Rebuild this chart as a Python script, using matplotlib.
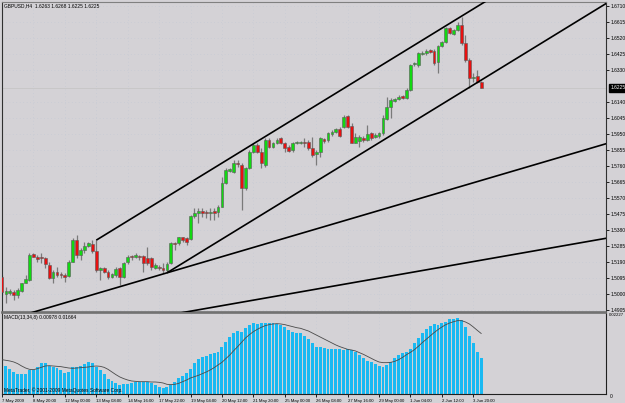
import matplotlib
matplotlib.use("Agg")
import matplotlib.pyplot as plt
import matplotlib.transforms as mtrans

# ---------------- data ----------------
chart_title = "GBPUSD,H4  1.6263 1.6268 1.6225 1.6225"
macd_title = "MACD(13,34,8) 0.00978 0.01664"
copyright_text = "MetaTrader, \u00a9 2001-2009 MetaQuotes Software Corp."

opens = [1.5104, 1.5001, 1.5005, 1.5014, 1.4995, 1.5020, 1.5068, 1.5084, 1.5238, 1.5219,
         1.5222, 1.5213, 1.5173, 1.5094, 1.5130, 1.5118, 1.5114, 1.5108, 1.5193, 1.5321,
         1.5232, 1.5262, 1.5288, 1.5298, 1.5256, 1.5143, 1.5153, 1.5133, 1.5103, 1.5114,
         1.5153, 1.5103, 1.5189, 1.5225, 1.5222, 1.5226, 1.5226, 1.5213, 1.5213, 1.5157,
         1.5163, 1.5153, 1.5143, 1.5183, 1.5305, 1.5302, 1.5337, 1.5332, 1.5326, 1.5464,
         1.5480, 1.5495, 1.5490, 1.5484, 1.5495, 1.5490, 1.5519, 1.5658, 1.5733, 1.5727,
         1.5777, 1.5767, 1.5629, 1.5747, 1.5846, 1.5886, 1.5846, 1.5767, 1.5915, 1.5876,
         1.5899, 1.5926, 1.5898, 1.5872, 1.5856, 1.5896, 1.5899, 1.5905, 1.5902, 1.5870,
         1.5832, 1.5846, 1.5921, 1.5915, 1.5949, 1.5965, 1.5981, 1.5994, 1.6058, 1.5999,
         1.5899, 1.5910, 1.5929, 1.5915, 1.5955, 1.5935, 1.5939, 1.5955, 1.6040, 1.6113,
         1.6147, 1.6159, 1.6177, 1.6163, 1.6212, 1.6365, 1.6361, 1.6426, 1.6430, 1.6450,
         1.6446, 1.6377, 1.6476, 1.6499, 1.6579, 1.6543, 1.6569, 1.6599, 1.6490, 1.6391,
         1.6282, 1.6296, 1.6263]
highs = [1.5114, 1.5044, 1.5030, 1.5024, 1.5035, 1.5068, 1.5114, 1.5242, 1.5242, 1.5232,
         1.5242, 1.5222, 1.5193, 1.5143, 1.5163, 1.5133, 1.5124, 1.5203, 1.5332, 1.5351,
         1.5272, 1.5311, 1.5311, 1.5321, 1.5321, 1.5163, 1.5163, 1.5143, 1.5127, 1.5163,
         1.5163, 1.5193, 1.5232, 1.5232, 1.5242, 1.5232, 1.5232, 1.5282, 1.5222, 1.5183,
         1.5173, 1.5183, 1.5193, 1.5311, 1.5311, 1.5341, 1.5341, 1.5341, 1.5470, 1.5510,
         1.5510, 1.5510, 1.5500, 1.5510, 1.5510, 1.5529, 1.5697, 1.5747, 1.5747, 1.5797,
         1.5797, 1.5777, 1.5757, 1.5856, 1.5898, 1.5896, 1.5866, 1.5926, 1.5926, 1.5905,
         1.5926, 1.5933, 1.5905, 1.5886, 1.5905, 1.5911, 1.5911, 1.5926, 1.5915, 1.5935,
         1.5856, 1.5935, 1.5929, 1.5965, 1.5975, 1.5987, 1.5994, 1.6064, 1.6064, 1.6015,
         1.5955, 1.5945, 1.5939, 1.6005, 1.5965, 1.5955, 1.5965, 1.6064, 1.6173, 1.6163,
         1.6165, 1.6183, 1.6183, 1.6223, 1.6367, 1.6379, 1.6440, 1.6444, 1.6454, 1.6456,
         1.6454, 1.6480, 1.6505, 1.6588, 1.6587, 1.6575, 1.6618, 1.6648, 1.6539, 1.6401,
         1.6312, 1.6331, 1.6268]
lows = [1.4995, 1.4945, 1.4995, 1.4965, 1.4975, 1.5014, 1.5064, 1.5078, 1.5219, 1.5193,
        1.5183, 1.5153, 1.5088, 1.5064, 1.5103, 1.5094, 1.5074, 1.5103, 1.5191, 1.5213,
        1.5203, 1.5242, 1.5282, 1.5242, 1.5133, 1.5084, 1.5124, 1.5088, 1.5094, 1.5103,
        1.5054, 1.5094, 1.5179, 1.5203, 1.5213, 1.5203, 1.5133, 1.5173, 1.5143, 1.5147,
        1.5143, 1.5124, 1.5133, 1.5179, 1.5262, 1.5292, 1.5311, 1.5292, 1.5321, 1.5450,
        1.5421, 1.5456, 1.5450, 1.5440, 1.5440, 1.5460, 1.5517, 1.5654, 1.5727, 1.5721,
        1.5757, 1.5500, 1.5618, 1.5741, 1.5838, 1.5836, 1.5747, 1.5757, 1.5868, 1.5868,
        1.5892, 1.5892, 1.5846, 1.5844, 1.5846, 1.5892, 1.5892, 1.5876, 1.5856, 1.5814,
        1.5767, 1.5816, 1.5899, 1.5905, 1.5939, 1.5957, 1.5935, 1.5985, 1.5987, 1.5896,
        1.5896, 1.5876, 1.5905, 1.5910, 1.5915, 1.5926, 1.5929, 1.5945, 1.6034, 1.6044,
        1.6141, 1.6153, 1.6157, 1.6157, 1.6209, 1.6355, 1.6351, 1.6420, 1.6420, 1.6432,
        1.6361, 1.6312, 1.6470, 1.6493, 1.6545, 1.6539, 1.6563, 1.6480, 1.6381, 1.6223,
        1.6262, 1.6252, 1.6225]
closes = [1.5015, 1.5020, 1.5020, 1.4995, 1.5024, 1.5064, 1.5088, 1.5232, 1.5222, 1.5207,
          1.5213, 1.5179, 1.5094, 1.5133, 1.5114, 1.5114, 1.5103, 1.5193, 1.5321, 1.5232,
          1.5262, 1.5286, 1.5302, 1.5256, 1.5143, 1.5153, 1.5133, 1.5100, 1.5118, 1.5147,
          1.5103, 1.5183, 1.5222, 1.5219, 1.5231, 1.5219, 1.5183, 1.5183, 1.5163, 1.5173,
          1.5157, 1.5143, 1.5179, 1.5302, 1.5298, 1.5337, 1.5321, 1.5311, 1.5464, 1.5484,
          1.5495, 1.5484, 1.5484, 1.5488, 1.5484, 1.5519, 1.5658, 1.5737, 1.5741, 1.5777,
          1.5771, 1.5629, 1.5747, 1.5846, 1.5886, 1.5846, 1.5777, 1.5915, 1.5876, 1.5899,
          1.5915, 1.5899, 1.5866, 1.5852, 1.5899, 1.5905, 1.5905, 1.5899, 1.5866, 1.5826,
          1.5846, 1.5926, 1.5910, 1.5959, 1.5965, 1.5981, 1.5941, 1.6054, 1.5994, 1.5899,
          1.5935, 1.5931, 1.5915, 1.5951, 1.5926, 1.5945, 1.5955, 1.6044, 1.6113, 1.6153,
          1.6159, 1.6173, 1.6163, 1.6212, 1.6361, 1.6371, 1.6430, 1.6434, 1.6444, 1.6436,
          1.6375, 1.6476, 1.6499, 1.6579, 1.6549, 1.6569, 1.6599, 1.6490, 1.6391, 1.6282,
          1.6290, 1.6262, 1.6225]

macd_hist = [0.00861, 0.00778, 0.00688, 0.00613, 0.00550, 0.00550, 0.00550, 0.00660, 0.00660, 0.00751,
             0.00844, 0.00861, 0.00778, 0.00751, 0.00707, 0.00660, 0.00586, 0.00613, 0.00734, 0.00751,
             0.00770, 0.00825, 0.00880, 0.00844, 0.00751, 0.00660, 0.00550, 0.00413, 0.00358, 0.00294,
             0.00248, 0.00267, 0.00275, 0.00294, 0.00322, 0.00322, 0.00322, 0.00322, 0.00294, 0.00248,
             0.00201, 0.00157, 0.00184, 0.00248, 0.00338, 0.00432, 0.00495, 0.00569, 0.00688, 0.00844,
             0.00954, 0.01009, 0.01053, 0.01092, 0.01119, 0.01155, 0.01301, 0.01438, 0.01576, 0.01686,
             0.01741, 0.01713, 0.01807, 0.01898, 0.01944, 0.01925, 0.01944, 0.01944, 0.01944, 0.01944,
             0.01925, 0.01898, 0.01834, 0.01760, 0.01713, 0.01669,
             0.01669, 0.01595, 0.01504, 0.01394, 0.01301, 0.01284, 0.01257, 0.01246, 0.01246, 0.01246,
             0.01240, 0.01210, 0.01238, 0.01210, 0.01163, 0.01073, 0.00982, 0.00916, 0.00872, 0.00825,
             0.00778, 0.00751, 0.00798, 0.00888, 0.00982, 0.01073, 0.01136, 0.01163, 0.01229, 0.01411,
             0.01532, 0.01669, 0.01779, 0.01870, 0.01925, 0.01898, 0.01944, 0.01988, 0.02054, 0.02071,
             0.02098, 0.02035, 0.01851, 0.01595, 0.01394, 0.01163, 0.00978]
macd_signal = [0.00944, 0.00926, 0.00908, 0.00880, 0.00834, 0.00770, 0.00715, 0.00678, 0.00669, 0.00697,
               0.00733, 0.00770, 0.00779, 0.00770, 0.00761, 0.00752, 0.00733, 0.00715, 0.00706, 0.00715,
               0.00724, 0.00733, 0.00743, 0.00761, 0.00770, 0.00761, 0.00733, 0.00678, 0.00605, 0.00532,
               0.00468, 0.00422, 0.00385, 0.00358, 0.00348, 0.00339, 0.00339, 0.00339, 0.00330, 0.00330,
               0.00321, 0.00303, 0.00266, 0.00257, 0.00266, 0.00293, 0.00339, 0.00385, 0.00440, 0.00477,
               0.00513, 0.00559, 0.00605, 0.00660, 0.00724, 0.00798, 0.00871, 0.00972, 0.01073, 0.01192,
               0.01302, 0.01421, 0.01540, 0.01632, 0.01714, 0.01778, 0.01833, 0.01879, 0.01907, 0.01925,
               0.01934, 0.01925, 0.01907, 0.01879, 0.01852, 0.01824,
               0.01806, 0.01769, 0.01733, 0.01678, 0.01623, 0.01568, 0.01513, 0.01458, 0.01403, 0.01348,
               0.01302, 0.01265, 0.01228, 0.01210, 0.01183, 0.01137, 0.01091, 0.01036, 0.00981, 0.00926,
               0.00880, 0.00862, 0.00862, 0.00871, 0.00898, 0.00944, 0.01008, 0.01082, 0.01146, 0.01219,
               0.01311, 0.01412, 0.01503, 0.01595, 0.01687, 0.01769, 0.01843, 0.01907, 0.01953, 0.01989,
               0.02017, 0.02017, 0.01980, 0.01925, 0.01843, 0.01751, 0.01664]

time_tick_idx = [0, 8, 16, 24, 32, 40, 48, 56, 64, 72, 80, 88, 96, 104, 112, 120]
time_tick_labels = ["7 May 2009", "8 May 20:00", "12 May 00:00", "13 May 08:00",
                    "14 May 16:00", "17 May 22:00", "19 May 04:00", "20 May 12:00",
                    "21 May 20:00", "25 May 00:00", "26 May 08:00", "27 May 16:00",
                    "29 May 00:00", "1 Jun 04:00", "2 Jun 12:00", "3 Jun 20:00"]
price_ticks = [1.6710, 1.6615, 1.6520, 1.6425, 1.6330, 1.6140, 1.6045, 1.5950, 1.5855,
               1.5760, 1.5665, 1.5570, 1.5475, 1.5380, 1.5285, 1.5190, 1.5095, 1.5000, 1.4905]
last_price = 1.6225
macd_max = 0.02227

# trend lines: (start bar, start price), (end bar, end price)
trend_lines = [((24, 1.5321), (140, 1.6980)),
               ((42, 1.5127), (154, 1.6729)),
               ((0, 1.4839), (154, 1.5895)),
               ((0, 1.4703), (154, 1.5333))]

# ---------------- style ----------------
W, H = 625, 403
BG = '#D4D2D6'
GREEN = '#12D812'
RED = '#E81010'
WICK = '#7A7A7A'
EDGE = '#5A5A5A'
HIST = '#19B9F2'
FONT = ['Liberation Sans', 'DejaVu Sans']
FS = 3.5
FSX = 3.1
plt.rcParams['font.family'] = FONT

fig = plt.figure(figsize=(W / 100, H / 100), dpi=100)
fig.patch.set_facecolor(BG)


def box(x0, y0, x1, y1):
    return [x0 / W, 1 - y1 / H, (x1 - x0) / W, (y1 - y0) / H]


ax = fig.add_axes(box(2, 2, 606, 312))
axm = fig.add_axes(box(2, 313, 606, 394), sharex=ax)
XL = (0.08, 153.78)

for a in (ax, axm):
    a.set_facecolor(BG)
    a.set_xlim(*XL)

# grid (dotted)
for p in price_ticks:
    ax.axhline(p, color='#C2C8D4', lw=0.5, ls=(0, (1, 4)), zorder=0)
for t in time_tick_idx:
    ax.axvline(t, color='#C2C8D4', lw=0.5, ls=(0, (1, 4)), zorder=0)
    axm.axvline(t, color='#C2C8D4', lw=0.5, ls=(0, (1, 4)), zorder=0)

# current price line
ax.axhline(last_price, color='#C6C6C6', lw=0.6, zorder=1)

# candles
idx = list(range(len(opens)))
body_lo = [min(o, c) for o, c in zip(opens, closes)]
body_h = [max(abs(c - o), 0.00012) for o, c in zip(opens, closes)]
colors = [GREEN if c > o else (RED if c < o else WICK) for o, c in zip(opens, closes)]
ax.vlines(idx, lows, highs, color=WICK, lw=0.9, zorder=2)
ax.bar(idx, body_h, bottom=body_lo, width=0.72, color=colors, edgecolor=EDGE,
       linewidth=0.4, zorder=3)

# trend lines
for (x0, y0), (x1, y1) in trend_lines:
    ax.plot([x0, x1], [y0, y1], color='black', lw=1.2, zorder=4, solid_capstyle='butt')

ax.set_ylim(1.48945, 1.67351)
ax.yaxis.tick_right()
ax.set_yticks(price_ticks)
ax.set_yticklabels([f"{p:.4f}" for p in price_ticks])
ax.tick_params(axis='y', length=2.5, width=0.6, pad=1, labelsize=FS, colors='black')
ax.tick_params(axis='x', length=0, labelbottom=False)

# current price tag
trans = mtrans.blended_transform_factory(ax.transAxes, ax.transData)
ax.text(1.0075, last_price, f"{last_price:.4f}", transform=trans, ha='left', va='center',
        fontsize=FS, color='white', zorder=6, clip_on=False,
        bbox=dict(boxstyle='square,pad=0.35', fc='black', ec='black'))

for s in ('left', 'right'):
    ax.spines[s].set_color('#303030')
    ax.spines[s].set_linewidth(0.8)
ax.spines['top'].set_color('#808080')
ax.spines['top'].set_linewidth(0.8)
ax.spines['bottom'].set_color('#707070')
ax.spines['bottom'].set_linewidth(1.2)

# MACD panel
axm.bar(idx, macd_hist, width=0.75, color=HIST, linewidth=0, zorder=2)
axm.plot(idx, macd_signal, color='#4A4A4A', lw=0.6, zorder=3)
axm.set_ylim(0, macd_max)
axm.set_yticks([])
axm.set_xticks(time_tick_idx)
axm.set_xticklabels(time_tick_labels)
axm.tick_params(axis='x', length=2.5, width=0.6, pad=0.8, labelsize=FSX, colors='black')
for lbl in axm.get_xticklabels():
    lbl.set_ha('left')
axm.spines['top'].set_color('#707070')
axm.spines['top'].set_linewidth(1.2)
axm.spines['left'].set_color('#303030')
axm.spines['left'].set_linewidth(0.8)
for s in ('right', 'bottom'):
    axm.spines[s].set_color('#202020')
    axm.spines[s].set_linewidth(0.8)
    axm.spines[s].set_linestyle((0, (2, 1)))

tm = mtrans.blended_transform_factory(axm.transAxes, axm.transData)
axm.text(1.004, macd_max, f"{macd_max:.5f}", transform=tm, ha='left', va='top',
         fontsize=FSX, color='black', clip_on=False)
axm.text(1.006, 0, "0", transform=tm, ha='left', va='top', fontsize=FS,
         color='black', clip_on=False)

# texts
fig.text(4 / W, 1 - 5.5 / H, chart_title, ha='left', va='center', fontsize=FS, color='black')
fig.text(4 / W, 1 - 317 / H, macd_title, ha='left', va='center', fontsize=FS, color='black')
fig.text(4 / W, 1 - 390 / H, copyright_text, ha='left', va='center', fontsize=FS,
         color='black', zorder=10)

fig.savefig("out.png", dpi=100, facecolor=BG)
